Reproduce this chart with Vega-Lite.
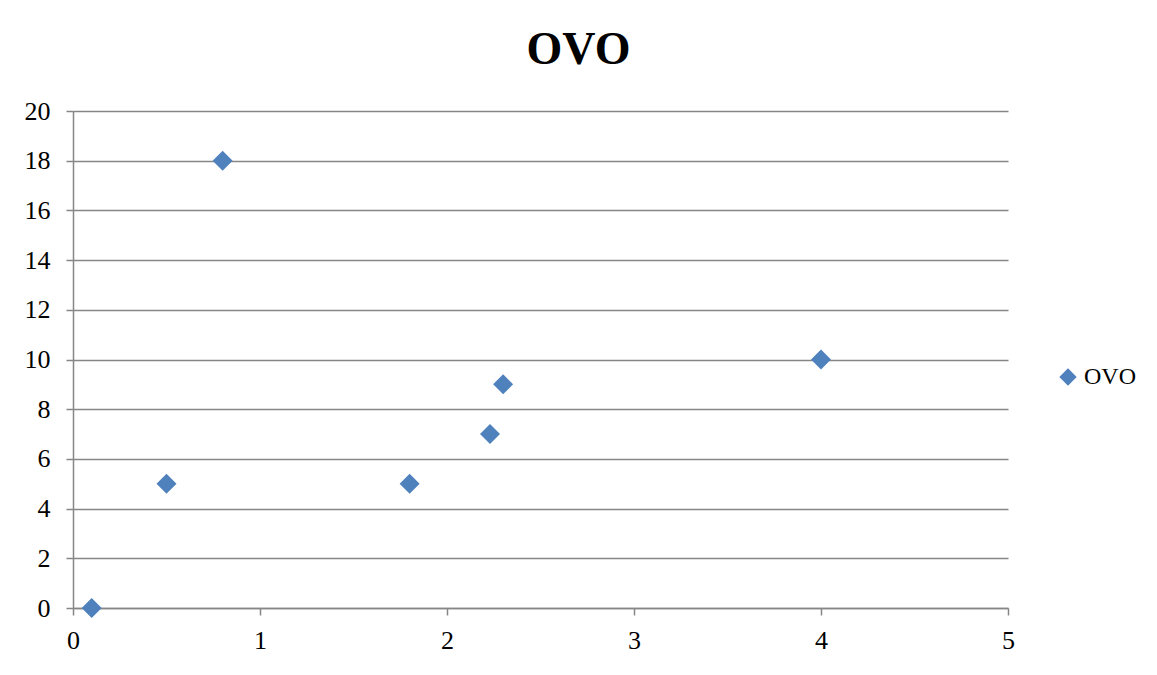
{
  "$schema": "https://vega.github.io/schema/vega-lite/v6.json",
  "autosize": {"type": "none"},
  "width": 935,
  "height": 497,
  "padding": {"left": 73, "top": 111, "right": 149, "bottom": 67},
  "background": "white",
  "title": {
    "text": "OVO",
    "font": "Liberation Serif",
    "fontSize": 46,
    "fontWeight": "bold",
    "color": "black",
    "anchor": "middle",
    "dx": 38,
    "offset": 24
  },
  "data": {
    "values": [
      {"x": 0.1, "y": 0, "series": "OVO"},
      {"x": 0.5, "y": 5, "series": "OVO"},
      {"x": 0.8, "y": 18, "series": "OVO"},
      {"x": 1.8, "y": 5, "series": "OVO"},
      {"x": 2.23, "y": 7, "series": "OVO"},
      {"x": 2.3, "y": 9, "series": "OVO"},
      {"x": 4.0, "y": 10, "series": "OVO"}
    ]
  },
  "mark": {"type": "point", "shape": "diamond", "filled": true, "size": 400, "opacity": 1},
  "encoding": {
    "x": {
      "field": "x", "type": "quantitative",
      "scale": {"domain": [0, 5], "nice": false, "zero": true},
      "axis": {
        "title": null, "values": [0, 1, 2, 3, 4, 5], "grid": false,
        "domainColor": "#868686", "domainWidth": 1.5,
        "tickColor": "#868686", "tickWidth": 1.5, "tickSize": 7,
        "labelFont": "Liberation Serif", "labelFontSize": 26, "labelColor": "black",
        "labelPadding": 12, "labelFlush": false
      }
    },
    "y": {
      "field": "y", "type": "quantitative",
      "scale": {"domain": [0, 20], "nice": false},
      "axis": {
        "title": null, "values": [0, 2, 4, 6, 8, 10, 12, 14, 16, 18, 20],
        "grid": true, "gridColor": "#868686", "gridWidth": 1.5,
        "domainColor": "#868686", "domainWidth": 1.5,
        "tickColor": "#868686", "tickWidth": 1.5, "tickSize": 7,
        "labelFont": "Liberation Serif", "labelFontSize": 26, "labelColor": "black",
        "labelPadding": 16
      }
    },
    "color": {
      "field": "series", "type": "nominal",
      "scale": {"range": ["#4F81BD"]},
      "legend": {
        "title": null, "orient": "none", "legendX": 983, "legendY": 254,
        "symbolType": "diamond", "symbolSize": 300, "symbolStrokeWidth": 0,
        "labelFont": "Liberation Serif", "labelFontSize": 24, "labelColor": "black",
        "labelOffset": 4
      }
    }
  },
  "config": {"view": {"stroke": null}}
}
